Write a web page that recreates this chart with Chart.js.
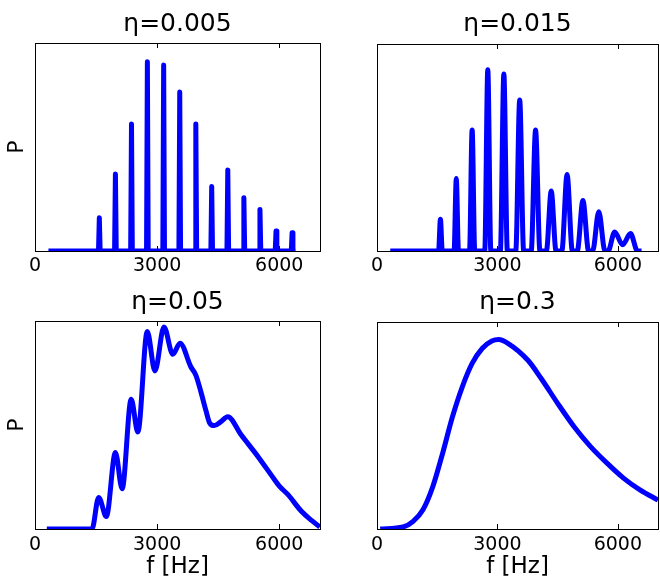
<!DOCTYPE html>
<html>
<head>
<meta charset="utf-8">
<script src="https://cdn.jsdelivr.net/npm/chart.js@4.4.0/dist/chart.umd.min.js"></script>
<style>
  html, body { margin: 0; padding: 0; background: #fff; }
  #wrap { position: relative; width: 660px; height: 579px; overflow: hidden; }
  canvas { position: absolute; }
</style>
</head>
<body>
<div id="wrap">
  <canvas id="c1" width="330" height="290" style="left:0;top:0"></canvas>
  <canvas id="c2" width="330" height="290" style="left:330px;top:0"></canvas>
  <canvas id="c3" width="330" height="289" style="left:0;top:290px"></canvas>
  <canvas id="c4" width="330" height="289" style="left:330px;top:290px"></canvas>
</div>
<script>
// tick labels shared by all panels
const xTicks = [0, 3000, 6000];

// eta = 0.005 : narrow spikes at the harmonics
const f1 = [330, 1560, 1580, 1600, 1955, 1975, 1995, 2350, 2370, 2390, 2740, 2760, 2780,
            3140, 3160, 3180, 3535, 3555, 3575, 3930, 3950, 3970, 4320, 4340, 4360,
            4715, 4735, 4755, 5110, 5130, 5150, 5505, 5525, 5545, 5900, 5920, 5940,
            6295, 6315, 6335, 6400];
const p1 = [0, 0, 0.16, 0, 0, 0.37, 0, 0, 0.61, 0, 0, 0.91, 0,
            0, 0.894, 0, 0, 0.764, 0, 0, 0.61, 0, 0, 0.31, 0,
            0, 0.39, 0, 0, 0.256, 0, 0, 0.2, 0, 0, 0.096, 0,
            0, 0.088, 0, 0];

// eta = 0.015 : wider peaks
const f2 = [330, 1534, 1580, 1626, 1920, 1975, 2030, 2305, 2370, 2435, 2684, 2760, 2836,
            3073, 3160, 3247, 3457, 3555, 3653, 3841, 3950, 4059, 4220, 4340, 4460,
            4604, 4735, 4866, 4989, 5130, 5271, 5372, 5525, 5678, 5757, 5920, 6118,
            6315, 6490, 6590];
const p2 = [0, 0, 0.153, 0, 0, 0.35, 0, 0, 0.585, 0, 0, 0.876, 0,
            0, 0.855, 0, 0, 0.73, 0, 0, 0.584, 0, 0, 0.29, 0,
            0, 0.37, 0, 0, 0.244, 0, 0, 0.19, 0, 0, 0.092, 0.03,
            0.084, 0, 0];

// eta = 0.05 : merged peaks
const f3 = [290, 1400, 1563, 1753, 1975, 2140, 2362, 2527, 2757, 2946, 3168, 3385, 3563,
            3827, 3950, 4074, 4197, 4290, 4400, 4560, 4733, 5062, 5474, 5884, 6007,
            6214, 6543, 6800, 6995];
const p3 = [0, 0, 0.152, 0.06, 0.368, 0.193, 0.624, 0.466, 0.949, 0.76, 0.971, 0.84, 0.893,
            0.78, 0.74, 0.66, 0.57, 0.51, 0.497, 0.515, 0.54, 0.453, 0.349, 0.237, 0.205,
            0.165, 0.085, 0.04, 0.01];

// eta = 0.3 : smooth envelope
const f4 = [80, 650, 900, 1145, 1390, 1635, 1880, 2125, 2370, 2620, 2860, 3030, 3270,
            3760, 4090, 4500, 4910, 5320, 5730, 6140, 6550, 7000];
const p4 = [0, 0.01, 0.037, 0.093, 0.205, 0.366, 0.542, 0.687, 0.80, 0.872, 0.908, 0.915, 0.896,
            0.815, 0.727, 0.607, 0.494, 0.398, 0.318, 0.246, 0.189, 0.14];

Chart.defaults.font.family = '"DejaVu Sans", sans-serif';
Chart.defaults.color = '#000';

// box round the plot and small inward ticks, like the matplotlib axes
const frame = {
  id: 'frame',
  afterDatasetsDraw(chart) {
    const { ctx, chartArea: a } = chart;
    const x = chart.scales.x;
    ctx.save();
    ctx.strokeStyle = '#000';
    ctx.lineWidth = 1;
    ctx.beginPath();
    xTicks.forEach(v => {
      const px = Math.round(x.getPixelForValue(v)) + 0.5;
      ctx.moveTo(px, a.bottom);
      ctx.lineTo(px, a.bottom - 5);
      ctx.moveTo(px, a.top);
      ctx.lineTo(px, a.top + 5);
    });
    ctx.stroke();
    ctx.strokeRect(a.left + 0.5, a.top + 0.5, a.width, a.height);
    ctx.restore();
  }
};

function makeChart(id, xs, ys, o) {
  return new Chart(document.getElementById(id), {
    type: 'line',
    data: {
      datasets: [{
        data: xs.map((v, i) => ({ x: v, y: ys[i] })),
        borderColor: '#0000ff',
        borderWidth: 5,
        borderJoinStyle: 'round',
        pointRadius: 0,
        tension: 0,
        cubicInterpolationMode: o.mode
      }]
    },
    options: {
      responsive: false,
      animation: false,
      devicePixelRatio: 1,
      layout: { padding: { left: 0, right: o.padRight, top: 0, bottom: 0 } },
      plugins: {
        legend: { display: false },
        tooltip: { enabled: false },
        title: {
          display: true,
          text: o.title,
          fullSize: false,
          color: '#000',
          font: { size: 25, weight: 'normal', lineHeight: 1 },
          padding: { top: o.tTop, bottom: o.tBottom }
        }
      },
      scales: {
        x: {
          type: 'linear',
          min: 0,
          max: 7000,
          grid: { display: false, drawTicks: false },
          border: { display: false },
          afterBuildTicks: s => { s.ticks = xTicks.map(v => ({ value: v })); },
          afterFit: s => { s.height = o.xH; },
          ticks: {
            font: { size: 19 },
            color: '#000',
            padding: o.tickPad,
            maxRotation: 0,
            autoSkip: false,
            callback: v => String(v)
          },
          title: {
            display: o.xTitle,
            text: 'f [Hz]',
            color: '#000',
            font: { size: 23, lineHeight: 1 },
            padding: { top: 0, bottom: 0 }
          }
        },
        y: {
          min: 0,
          max: 1,
          grid: { display: false, drawTicks: false },
          border: { display: false },
          ticks: { display: false },
          afterFit: s => { s.width = o.yW; },
          title: {
            display: o.yTitle,
            text: 'P',
            color: '#000',
            font: { size: 22, lineHeight: 1 },
            padding: { top: 6.5, bottom: 0 }
          }
        }
      }
    },
    plugins: [frame]
  });
}

makeChart('c1', f1, p1, { title: 'η=0.005', mode: 'default', padRight: 10, tTop: 11.5, tBottom: 6.5,
  xH: 39, yW: 35, tickPad: 4, xTitle: false, yTitle: true });
makeChart('c2', f2, p2, { title: 'η=0.015', mode: 'monotone', padRight: 2, tTop: 11.5, tBottom: 7.5,
  xH: 39, yW: 47, tickPad: 4, xTitle: false, yTitle: false });
makeChart('c3', f3, p3, { title: 'η=0.05', mode: 'monotone', padRight: 10, tTop: 0, tBottom: 6,
  xH: 50, yW: 35, tickPad: 5, xTitle: true, yTitle: true });
makeChart('c4', f4, p4, { title: 'η=0.3', mode: 'monotone', padRight: 2, tTop: 0, tBottom: 7,
  xH: 50, yW: 47, tickPad: 5, xTitle: true, yTitle: false });
</script>
</body>
</html>
